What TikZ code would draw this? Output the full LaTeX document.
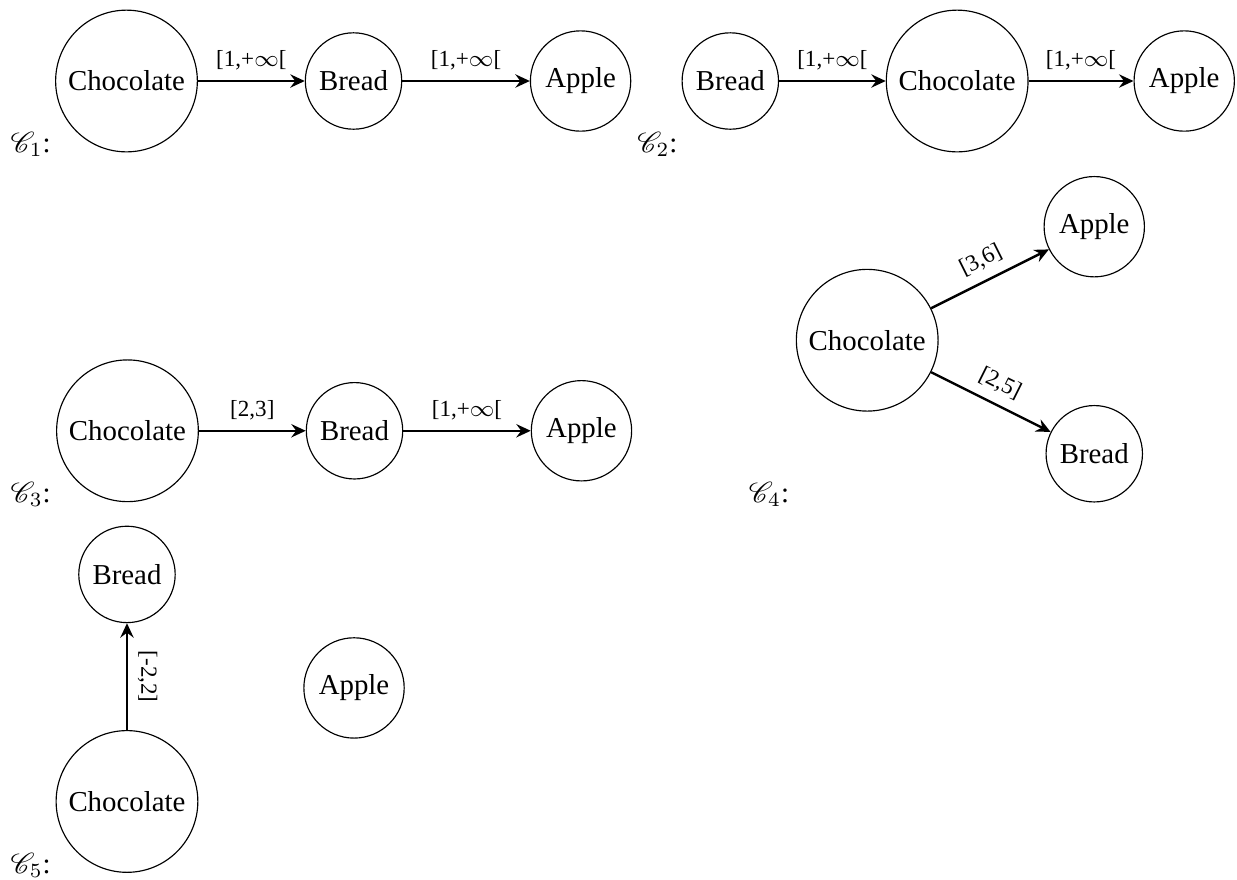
\documentclass[tikz,border=0pt]{standalone}
\usepackage{fontspec}
\setmainfont{Liberation Serif}
\usepackage{mathrsfs}
\usetikzlibrary{arrows.meta}

\begin{document}
\begin{tikzpicture}[
		item/.style={circle, draw, thin},
		link/.style={-{Stealth[length=5pt, width=4.6pt, inset=1.7pt]}, line width=0.85pt},
		val/.style={midway, above, sloped, font=\footnotesize},
		cname/.style={anchor=base west, inner sep=0pt}
	]
			%%%%% START %%%%%
			\useasboundingbox (0, 0) rectangle (15.07, -10.709);
			
			% C1
			\node[cname] (n1) at (0.122, -1.858) {$\mathscr{C}_1$:};
			\node[item] (choc1) at (1.541, -0.987) {Chocolate};
			\node[item] (bread1) at (4.307, -0.987) {Bread};
			\node[item] (apple1) at (7.073, -0.987) {Apple};
			\draw[link] (choc1) -- node[val] {[1,+$\infty$[} (bread1);
			\draw[link] (bread1) -- node[val] {[1,+$\infty$[} (apple1);
			
			% C2
			\node[cname] (n2) at (7.757, -1.858) {$\mathscr{C}_2$:};
			\node[item] (bread2) at (8.897, -0.987) {Bread};
			\node[item] (choc2) at (11.661, -0.987) {Chocolate};
			\node[item] (apple2) at (14.427, -0.987) {Apple};
			\draw[link] (bread2) -- node[val] {[1,+$\infty$[} (choc2);
			\draw[link] (choc2) -- node[val] {[1,+$\infty$[} (apple2);
			
			% C3
			\node[cname] (n3) at (0.122, -6.122) {$\mathscr{C}_3$:};
			\node[item] (choc3) at (1.553, -5.248) {Chocolate};
			\node[item] (bread3) at (4.319, -5.248) {Bread};
			\node[item] (apple3) at (7.084, -5.248) {Apple};
			\draw[link] (choc3) -- node[val] {[2,3]} (bread3);
			\draw[link] (bread3) -- node[val] {[1,+$\infty$[} (apple3);
			
			% C4
			\node[cname] (n4) at (9.116, -6.122) {$\mathscr{C}_4$:};
			\node[item] (choc4) at (10.565, -4.145) {Chocolate};
			\node[item] (apple4) at (13.331, -2.762) {Apple};
			\node[item] (bread4) at (13.331, -5.528) {Bread};
			\draw[link] (choc4) -- node[val] {[3,6]} (apple4);
			\draw[link] (choc4) -- node[val] {[2,5]} (bread4);
			
			% C5
			\node[cname] (n5) at (0.122, -10.639) {$\mathscr{C}_5$:};
			\node[item] (choc5) at (1.547, -9.764) {Chocolate};
			\node[item] (bread5) at (1.547, -6.998) {Bread};
			\node[item] (apple5) at (4.313, -8.381) {Apple};
			\draw[link] (choc5) -- node[midway, above, rotate=-90, font=\footnotesize] {[-2,2]} (bread5);
			
			%%%%% END %%%%%
\end{tikzpicture}
\end{document}
